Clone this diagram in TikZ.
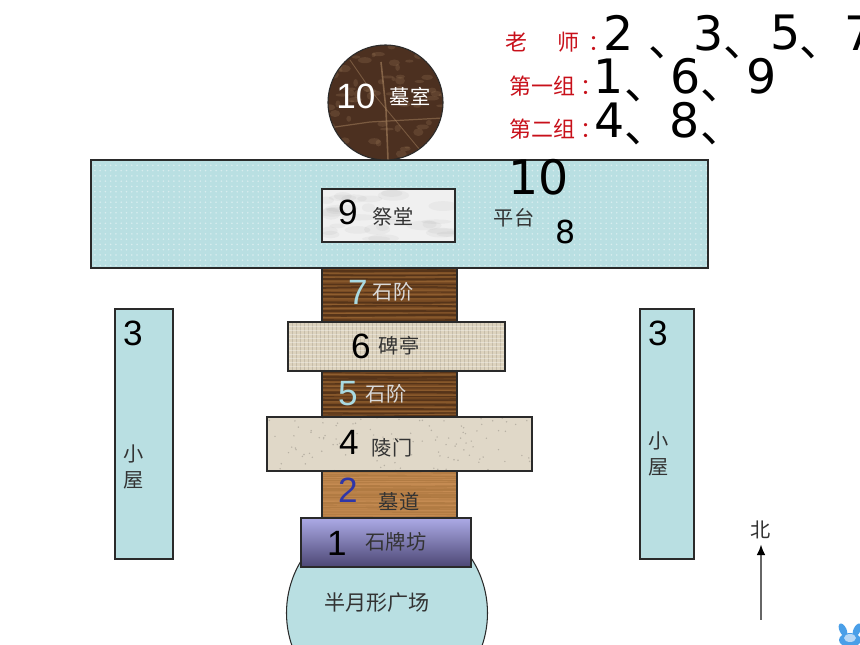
\documentclass[tikz,border=0pt]{standalone}
\usepackage{fontspec}
\setmainfont{Liberation Sans}
\newfontfamily\cjk{Noto Sans CJK SC}
\newfontfamily\numfont{DejaVu Sans}
\usepackage{tikz}
\usetikzlibrary{patterns,arrows.meta}

\definecolor{teal1}{HTML}{B9DFE2}
\definecolor{line1}{HTML}{2A2A2A}
\definecolor{wooddark}{HTML}{7A4C24}
\definecolor{woodlite}{HTML}{C58B52}
\definecolor{graindark}{HTML}{3F2412}
\definecolor{grainlite}{HTML}{A5713A}
\definecolor{linen}{HTML}{DDD3BE}
\definecolor{sand}{HTML}{E0D8C8}
\definecolor{stone}{HTML}{4C3020}
\definecolor{vein}{HTML}{A88460}
\definecolor{redtext}{HTML}{C8101A}
\definecolor{paleblue}{HTML}{A9DAE2}
\definecolor{numblue}{HTML}{2F36A8}
\definecolor{gatetop}{HTML}{ACAAE6}
\definecolor{gatemid}{HTML}{A09CD6}
\definecolor{gatelow}{HTML}{4C4774}
\definecolor{bunny}{HTML}{4A9FE8}

\tikzset{
	shape line/.style={draw=line1, line width=0.6pt},
	zh/.style={inner sep=0pt, font=\cjk\fontsize{11.5}{12}\selectfont, text=black!80},
	num/.style={inner sep=0pt, font=\fontsize{20}{22}\selectfont},
	big/.style={inner sep=0pt, font=\numfont\fontsize{27}{30}\selectfont},
	mark zh/.style={inner sep=0pt, font=\cjk\fontsize{25}{26}\selectfont},
	red zh/.style={inner sep=0pt, font=\cjk\fontsize{12.5}{14}\selectfont, text=redtext}
}

% plank with grain: x0 y0 x1 y1 base stripe glint
\newcommand{\plank}[7]{
	\begin{scope}
		\clip (#1,#2) rectangle (#3,#4);
		\fill[#5] (#1,#2) rectangle (#3,#4);
		\foreach \k in {1,...,12}{
			\pgfmathsetmacro{\yy}{#2+(#4-#2)*(\k-0.5)/12+rand}
			\draw[#6, line width=0.5pt+1pt*rnd, opacity=0.6] (#1,\yy) .. controls (#1*0.6+#3*0.4,\yy+1.5*rand) and (#1*0.3+#3*0.7,\yy+1.5*rand) .. (#3,\yy);
			\draw[#7, line width=0.6pt, opacity=0.5] (#1,\yy+2.2) -- (#3,\yy+2.2+rand);
		}
	\end{scope}
	\draw[shape line] (#1,#2) rectangle (#3,#4);
}
% speckled stone: x0 y0 x1 y1 base
\newcommand{\speckle}[5]{
	\begin{scope}
		\clip (#1,#2) rectangle (#3,#4);
		\fill[#5] (#1,#2) rectangle (#3,#4);
		\foreach \k in {1,...,110}{
			\pgfmathsetmacro{\px}{#1+(#3-#1)*rnd}
			\pgfmathsetmacro{\py}{#2+(#4-#2)*rnd}
			\fill[black!18!#5] (\px,\py) circle (0.8);
		}
	\end{scope}
	\draw[shape line] (#1,#2) rectangle (#3,#4);
}
% woven cloth: x0 y0 x1 y1 base
\newcommand{\weave}[5]{
	\begin{scope}
		\clip (#1,#2) rectangle (#3,#4);
		\fill[#5] (#1,#2) rectangle (#3,#4);
		\foreach \k in {0,4,...,220}{
			\draw[black!18!#5, line width=0.3pt, opacity=0.6] (#1+\k,#2) -- (#1+\k,#4);
		}
		\foreach \k in {0,4,...,52}{
			\draw[white, line width=0.4pt, opacity=0.35] (#1,#2+\k) -- (#3,#2+\k);
		}
	\end{scope}
	\draw[shape line] (#1,#2) rectangle (#3,#4);
}

\begin{document}
\begin{tikzpicture}[x=0.02cm,y=-0.02cm]
	\pgfmathsetseed{42}
	\clip (0,0) rectangle (860,645);
	\fill[white] (0,0) rectangle (860,645);

	% platform
	\fill[teal1] (91,160) rectangle (708,268);
	\fill[pattern=dots, pattern color=white!45!teal1] (91,160) rectangle (708,268);
	\draw[shape line] (91,160) rectangle (708,268);

	% tomb chamber
	\begin{scope}
		\clip (385.5,102.5) circle (57.5);
		\fill[stone] (328,45) rectangle (443,160);
		\foreach \k in {1,...,70}{
			\pgfmathsetmacro{\px}{328+115*rnd}
			\pgfmathsetmacro{\py}{45+115*rnd}
			\fill[vein, opacity=0.22] (\px,\py) ellipse (2+5*rnd and 1+3*rnd);
		}
		\draw[vein, line width=0.9pt, opacity=0.6] (381,62) -- (386,110) -- (388,160);
		\draw[vein, line width=0.7pt, opacity=0.5] (328,128) -- (370,122) -- (443,118);
		\draw[vein, line width=0.5pt, opacity=0.5] (350,60) -- (372,92) -- (420,150);
	\end{scope}
	\draw[shape line] (385.5,102.5) circle (57.5);

	% marble hall
	\begin{scope}
		\clip (322,189) rectangle (455,242);
		\fill[black!6] (322,189) rectangle (455,242);
		\foreach \k in {1,...,30}{
			\pgfmathsetmacro{\px}{322+133*rnd}
			\pgfmathsetmacro{\py}{189+53*rnd}
			\fill[black!45, opacity=0.08] (\px,\py) ellipse (6+12*rnd and 2+4*rnd);
		}
	\end{scope}
	\draw[shape line] (322,189) rectangle (455,242);

	% crescent square
	\draw[shape line, fill=teal1] (387,613) circle (100.5);

	% houses
	\draw[shape line, fill=teal1] (115,309) rectangle (173,559);
	\draw[shape line, fill=teal1] (640,309) rectangle (694,559);

	% steps, from top
	\plank{322}{268}{457}{322}{wooddark}{graindark}{grainlite}
	\weave{288}{322}{505}{371}{linen}
	\plank{322}{371}{457}{418}{wooddark}{graindark}{grainlite}
	\speckle{267}{417}{532}{471}{sand}
	\plank{322}{471}{457}{522}{woodlite}{grainlite}{grainlite}
	\shade[top color=gatetop, middle color=gatemid, bottom color=gatelow] (301,518) rectangle (471,567);
	\draw[shape line] (301,518) rectangle (471,567);

	% labels
	\node[num, text=white] (n10) at (356,96) {10};
	\node[zh, text=white] (muroom) at (410,96) {墓室};
	\node[num] (n9) at (348,212) {9};
	\node[zh] (jitang) at (393,217) {祭堂};
	\node[zh] (pingtai) at (514,218) {平台};
	\node[inner sep=0pt, font=\numfont\fontsize{18}{20}\selectfont] (n8) at (566,232) {8};
	\node[big] (bigten) at (539,177) {10};
	\node[num, text=paleblue] (n7) at (358,292) {7};
	\node[zh, text=black!15] (shijie1) at (393,292) {石阶};
	\node[num] (n6) at (361,346) {6};
	\node[zh] (beiting) at (399,346) {碑亭};
	\node[num, text=paleblue] (n5) at (348,394) {5};
	\node[zh, text=black!15] (shijie2) at (386,394) {石阶};
	\node[num] (n4) at (349,442) {4};
	\node[zh] (lingmen) at (392,448) {陵门};
	\node[num, text=numblue] (n2) at (348,490) {2};
	\node[zh] (mudao) at (399,502) {墓道};
	\node[num] (n1) at (337,543) {1};
	\node[zh] (paifang) at (396,542) {石牌坊};
	\node[zh, font=\cjk\fontsize{12}{13}\selectfont] (guangchang) at (377,603) {半月形广场};
	\node[num] (n3a) at (133,333) {3};
	\node[zh] (xiao1) at (134,454) {小};
	\node[zh] (wu1) at (134,480) {屋};
	\node[num] (n3b) at (658,333) {3};
	\node[zh] (xiao2) at (659,441) {小};
	\node[zh] (wu2) at (659,467) {屋};

	% teams
	\node[red zh] (laoshi) at (558,42) {老\hspace{1.36em}师\hspace{0.4em}：};
	\node[red zh] (team1) at (556,86) {第一组\hspace{0.2em}：};
	\node[red zh] (team2) at (556,129) {第二组\hspace{0.2em}：};
	\node[big] (t2) at (619,33) {2};
	\node[mark zh] (m1) at (670,53) {、};
	\node[big] (t3) at (709,33) {3};
	\node[mark zh] (m2) at (745,53) {、};
	\node[big] (t5) at (786,33) {5};
	\node[mark zh] (m3) at (821,53) {、};
	\node[big] (t7) at (860,33) {7};
	\node[big] (a1) at (609,76) {1};
	\node[mark zh] (m4) at (646,96) {、};
	\node[big] (a6) at (686,76) {6};
	\node[mark zh] (m5) at (722,96) {、};
	\node[big] (a9) at (762,76) {9};
	\node[big] (b4) at (610,120) {4};
	\node[mark zh] (m6) at (646,139) {、};
	\node[big] (b8) at (685,120) {8};
	\node[mark zh] (m7) at (722,139) {、};

	% north arrow
	\node[zh] (north) at (761,530) {北};
	\coordinate (tail) at (761,620);
	\draw[-{Latex[length=6pt,width=5pt,black]}, black!60, line width=0.7pt, shorten >=3pt] (tail) -- (north);

	% bunny
	\fill[bunny, rotate around={25:(843,630)}] (843,630) ellipse (3.5 and 7);
	\fill[bunny, rotate around={-25:(857,630)}] (857,630) ellipse (3.5 and 7);
	\fill[bunny] (850,640) ellipse (11 and 7);
	\fill[bunny!40!white] (850,638) ellipse (6 and 4);
\end{tikzpicture}
\end{document}
